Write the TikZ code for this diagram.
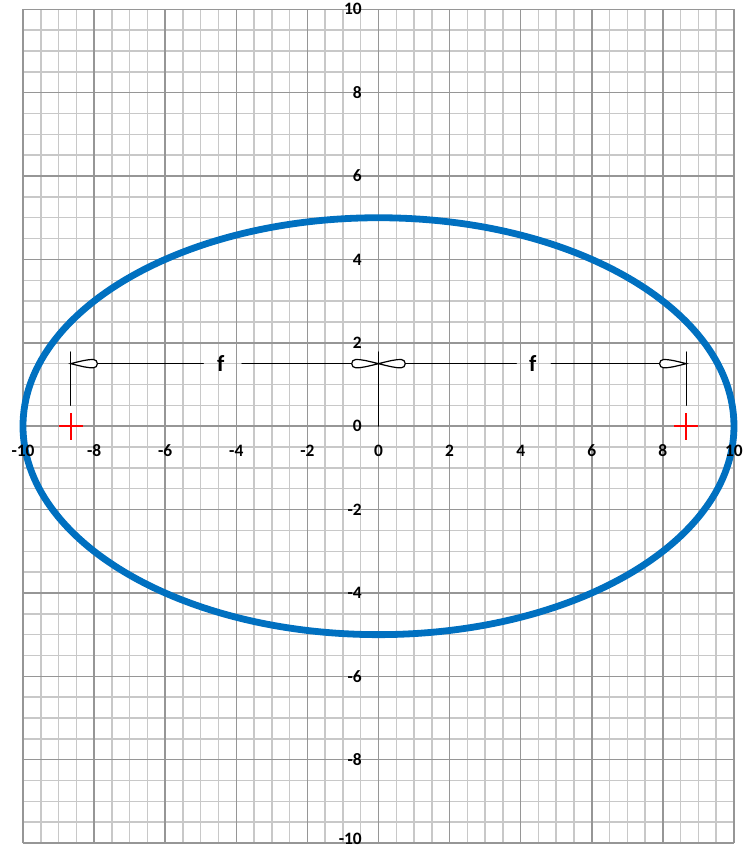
\documentclass[tikz,border=0pt]{standalone}
\usepackage{fontspec}
\setmainfont{Carlito}
\usepackage{tkz-euclide}
\definecolor{EllipseClr}{RGB}{0,112,192}
\definecolor{MinorGridClr}{RGB}{200,200,200}
\definecolor{MajorGridClr}{RGB}{150,150,150}
\definecolor{FocusClr}{RGB}{255,0,0}

\pgfdeclarearrow{
  name = Drop,
  setup code = {
    \pgfarrowssettipend{0pt}
    \pgfarrowssetlineend{-10pt}
    \pgfarrowssetbackend{-13.4pt}
  },
  drawing code = {
    \pgfsetfillcolor{white}
    \pgfpathmoveto{\pgfpointorigin}
    \pgfpathcurveto{\pgfqpoint{-6pt}{1.5pt}}{\pgfqpoint{-8.5pt}{2.1pt}}{\pgfqpoint{-11.3pt}{2.1pt}}
    \pgfpatharc{90}{270}{2.1pt}
    \pgfpathcurveto{\pgfqpoint{-8.5pt}{-2.1pt}}{\pgfqpoint{-6pt}{-1.5pt}}{\pgfpointorigin}
    \pgfpathclose
    \pgfusepathqfillstroke
  }
}

\begin{document}
\begin{tikzpicture}[x=17.775pt,y=20.845pt,>=Drop,
  minorgrid/.style={MinorGridClr,line width=0.75pt},
  majorgrid/.style={MajorGridClr,line width=0.75pt},
  ticklabel/.style={font=\fontsize{8.7}{10}\selectfont\bfseries,inner sep=0pt},
  flabel/.style={font=\fontsize{11.5}{13}\selectfont\bfseries,inner sep=0pt},
  focusmark/.style={FocusClr,line width=1.1pt}]
\tkzSetUpLine[line width=0.6pt,color=black]

\useasboundingbox (-10.647,-10.094) rectangle (10.338,10.223);

\draw[minorgrid,step=0.5] (-10,-10) grid (10,10);
\draw[majorgrid,step=2] (-10,-10) grid (10,10);

\tkzDefPoints{0/0/O,-8.66/0/F1,8.66/0/F2}
\tkzDefPoints{-8.66/0.5/A1,-8.66/1.78/B1,8.66/0.5/A2,8.66/1.78/B2,0/1.78/C0}
\tkzDefPoints{-8.66/1.5/D1,8.66/1.5/D2,0/1.5/M}
\tkzDefPoints{-4.93/1.5/G1,-3.84/1.5/G2,3.88/1.5/G3,4.86/1.5/G4}

\draw[EllipseClr,line width=3.4pt] (O) ellipse [x radius=10,y radius=5];

\tkzDrawSegments(A1,B1 A2,B2 O,C0)
\tkzDrawSegments[<-](D1,G1 M,G3)
\tkzDrawSegments[->](G2,M G4,D2)

\node[flabel] (fL) at (-4.44,1.5) {f};
\node[flabel] (fR) at (4.34,1.5) {f};

\draw[focusmark] (F1) +(-0.34,0) -- +(0.34,0) +(0,-0.32) -- +(0,0.32);
\draw[focusmark] (F2) +(-0.34,0) -- +(0.34,0) +(0,-0.32) -- +(0,0.32);

\foreach \v [count=\i] in {-10,-8,...,10}{
  \node[ticklabel] (xt\i) at (\v,-0.58) {\v};
  \node[ticklabel,anchor=east] (yt\i) at (-0.46,{max(\v,-9.9)}) {\v};
}

\end{tikzpicture}
\end{document}
